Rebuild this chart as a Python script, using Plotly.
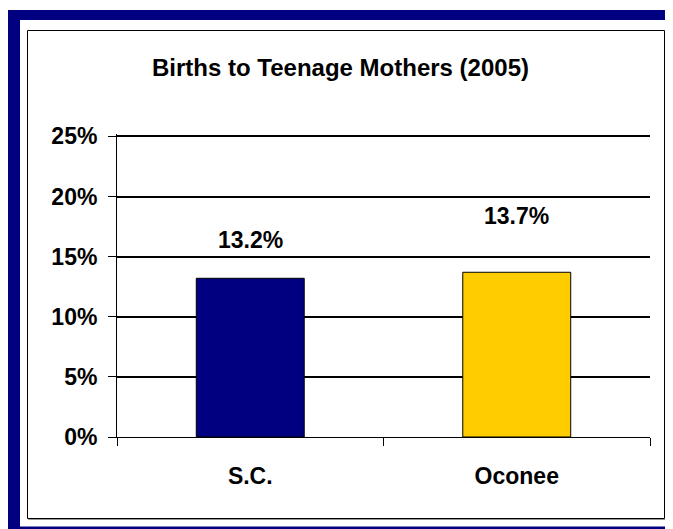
import plotly.graph_objects as go

# data
categories = ["S.C.", "Oconee"]
values = [13.2, 13.7]
bar_colors = ["#000080", "#FFCC00"]
label_shift = [38, 56]   # Excel put the two labels at different heights
y_ticks = [0, 5, 10, 15, 20, 25]
y_max = 25.2  # a bit above 25 so the top gridline is drawn

# the page body adds an 8px margin, so the figure is 8px smaller and
# everything below is given in reference pixels minus that offset
OFF = 8
PX_PER_UNIT = (437 - 136) / 25
W, H = 673 - OFF, 529 - OFF
L, R, B = 117 - OFF, 23, 92
T = round(437 - y_max * PX_PER_UNIT) - OFF
PW, PH = W - L - R, H - T - B


def px_x(x):
    return (x - OFF - L) / PW


def px_y(y):
    return (H - B - (y - OFF)) / PH


FONT = "Liberation Sans, Arial, sans-serif"
FS = 23

fig = go.Figure()
fig.add_trace(go.Bar(
    x=categories,
    y=values,
    width=0.405,
    marker=dict(color=bar_colors, line=dict(color="black", width=1)),
    hoverinfo="x+y",
))

for cat, val, shift in zip(categories, values, label_shift):
    fig.add_annotation(
        x=cat, y=val, text=f"<b>{val:.1f}%</b>", showarrow=False,
        yshift=shift, font=dict(family=FONT, size=FS, color="black"),
    )

shapes = [
    # navy outer frame
    dict(type="rect", xref="paper", yref="paper", x0=px_x(8), x1=px_x(680),
         y0=px_y(20), y1=px_y(10), fillcolor="#000080", line_width=0, layer="below"),
    dict(type="rect", xref="paper", yref="paper", x0=px_x(8), x1=px_x(20),
         y0=px_y(529), y1=px_y(10), fillcolor="#000080", line_width=0, layer="below"),
    dict(type="rect", xref="paper", yref="paper", x0=px_x(8), x1=px_x(680),
         y0=px_y(529), y1=px_y(526.5), fillcolor="#000080", line_width=0, layer="below"),
    # chart panel with a faint shadow
    dict(type="rect", xref="paper", yref="paper", x0=px_x(28.5), x1=px_x(665.5),
         y0=px_y(519.5), y1=px_y(31.5), line=dict(color="#999999", width=1), layer="below"),
    dict(type="rect", xref="paper", yref="paper", x0=px_x(27.5), x1=px_x(664.5),
         y0=px_y(518.5), y1=px_y(30.5), line=dict(color="black", width=1),
         fillcolor="white", layer="below"),
]

fig.update_layout(
    width=W, height=H,
    margin=dict(l=L, r=R, t=T, b=B),
    paper_bgcolor="white", plot_bgcolor="rgba(0,0,0,0)",
    showlegend=False,
    shapes=shapes,
    font=dict(family=FONT, color="black"),
    title=dict(text="<b>Births to Teenage Mothers (2005)</b>", x=0.5, xanchor="center",
               y=1 - (68 - OFF) / H, yanchor="middle", font=dict(family=FONT, size=24)),
    xaxis=dict(
        showline=True, linecolor="black", linewidth=1,
        ticks="outside", tickson="boundaries", ticklen=8, tickcolor="black",
        tickfont=dict(family=FONT, size=FS), showgrid=False,
        ticklabelstandoff=18,
    ),
    yaxis=dict(
        range=[0, y_max], tickvals=y_ticks, ticktext=[f"<b>{v}%</b>" for v in y_ticks],
        showline=True, linecolor="black", linewidth=1,
        ticks="outside", ticklen=8, tickcolor="black",
        showgrid=True, gridcolor="black", gridwidth=2, zeroline=False,
        tickfont=dict(family=FONT, size=FS), ticklabelstandoff=6,
    ),
)
fig.update_xaxes(ticktext=[f"<b>{c}</b>" for c in categories], tickvals=categories)

fig.write_html("out.html")
